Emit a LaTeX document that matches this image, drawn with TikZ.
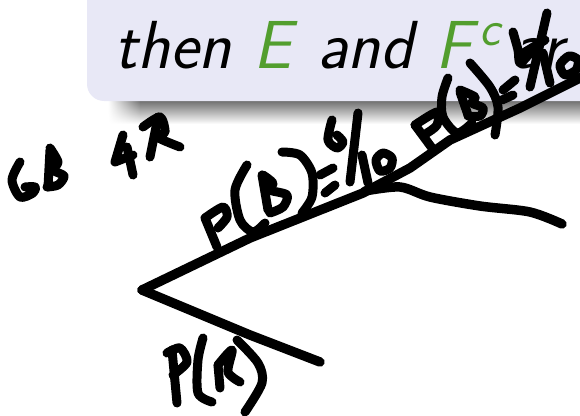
\documentclass[tikz,border=0pt]{standalone}
\usepackage{fontspec}
\setmainfont{Latin Modern Sans}
\definecolor{boxlilac}{RGB}{232, 232, 246}
\definecolor{popgreen}{RGB}{82, 158, 46}
\usetikzlibrary{fadings}
\tikzset{
  ink/.style={line width=9.5pt, line cap=round, line join=round, black},
  inkthin/.style={ink, line width=9pt},
  slide/.style={font=\fontsize{68}{68}\selectfont\itshape, anchor=base west, inner sep=0pt}
}
\begin{document}
\begin{tikzpicture}[x=1pt, y=-1pt]
  \useasboundingbox (0,0) rectangle (580,415);
  \begin{scope}
    \clip (0,0) rectangle (580,415);
    % shadow under the box
    \shade[top color=black!58, bottom color=white] (140,100) rectangle (590,124);
    \shade[top color=black!58, bottom color=white, path fading=west] (108,100) rectangle (140.5,124);
    % the box
    \fill[boxlilac, rounded corners=17pt] (87,-40) rectangle (620,101);
    \node[slide] (thenw) at (114,68) {then};
    \node[slide, text=popgreen] (ew) at (253,68) {E};
    \node[slide] (andw) at (317,68) {and};
    \node[slide, text=popgreen] (fw) at (435,68) {F};
    \node[slide, text=popgreen, font=\fontsize{50}{50}\selectfont\itshape] (cw) at (479,45) {c};
    \node[slide] (arew) at (512,68) {ar};
    % branches
    \draw[ink] (142,290) -- (250,238) -- (363,193) -- (410,168) -- (450,140) -- (520,108) -- (590,73);
    \draw[ink] plot[smooth] coordinates {(365,191) (400,187) (430,197) (480,206) (530,212) (562,224)};
    \draw[ink] (142,290) -- (250,335) -- (320,362);
    % 6B 4R
    \draw[inkthin] plot[smooth] coordinates {(20,162) (12,180) (20,197) (33,193) (35,187) (25,187)};
    \draw[inkthin] (50,150) -- (48,187);
    \draw[inkthin] plot[smooth] coordinates {(50,148) (58,162) (53,170) (64,176) (58,185) (47,187)};
    \draw[inkthin] (123,135) -- (115,162) -- (133,155);
    \draw[inkthin] (127,147) -- (133,175);
    \draw[inkthin] (158,117) -- (150,157);
    \draw[inkthin] plot[smooth] coordinates {(143,127) (160,117) (165,132) (157,137) (180,147)};
    % P(B) lower
    \draw[inkthin] (205,218) -- (217,247);
    \draw[inkthin] plot[smooth] coordinates {(205,218) (223,207) (227,217) (218,228)};
    \draw[inkthin] plot[smooth] coordinates {(247,165) (235,190) (240,220) (253,232) (265,223)};
    \draw[inkthin] (262,175) -- (268,210);
    \draw[inkthin] plot[smooth] coordinates {(263,175) (273,183) (270,190) (287,195) (283,207) (270,213)};
    \draw[inkthin] plot[smooth] coordinates {(282,152) (300,155) (312,173) (312,197) (302,213)};
    \draw[inkthin] (320,175) -- (333,168);
    \draw[inkthin] (325,193) -- (335,185);
    \draw[inkthin] plot[smooth] coordinates {(332,120) (328,140) (337,148) (343,142) (337,135)};
    \draw[inkthin] (358,113) -- (350,182);
    \draw[inkthin] (362,155) -- (368,183);
    \draw[inkthin] plot[smooth cycle] coordinates {(376,160) (383,153) (392,158) (390,168) (380,171)};
    % P(B) upper
    \draw[inkthin] (415,125) -- (432,148);
    \draw[inkthin] plot[smooth] coordinates {(415,125) (437,112) (437,125) (427,133)};
    \draw[inkthin] plot[smooth] coordinates {(448,78) (442,97) (443,117) (457,133) (472,123)};
    \draw[inkthin] (460,92) -- (468,115);
    \draw[inkthin] plot[smooth] coordinates {(460,90) (475,97) (472,103) (483,108) (480,116) (468,116)};
    \draw[inkthin] plot[smooth] coordinates {(470,63) (490,87) (498,107) (495,135)};
    \draw[inkthin] (503,90) -- (515,80);
    \draw[inkthin] (502,100) -- (513,95);
    % 4/10 overwritten
    \draw[inkthin] plot[smooth] coordinates {(513,32) (518,50) (520,63) (530,53)};
    \draw[inkthin] (520,55) -- (545,40);
    \draw[inkthin] (547,13) -- (530,87);
    \draw[inkthin] (543,53) -- (550,83);
    \draw[inkthin] plot[smooth cycle] coordinates {(560,65) (569,56) (578,60) (576,70) (565,75)};
    % P(R)
    \draw[inkthin] (172,350) -- (177,403);
    \draw[inkthin] plot[smooth] coordinates {(167,353) (180,348) (187,362) (173,375)};
    \draw[inkthin] plot[smooth] coordinates {(203,338) (198,360) (198,393) (212,402)};
    \draw[inkthin] (218,365) -- (220,388);
    \draw[inkthin] plot[smooth] coordinates {(218,365) (232,350) (228,372) (240,382)};
    \draw[inkthin] plot[smooth] coordinates {(237,340) (258,363) (262,383) (245,412)};
  \end{scope}
\end{tikzpicture}
\end{document}
